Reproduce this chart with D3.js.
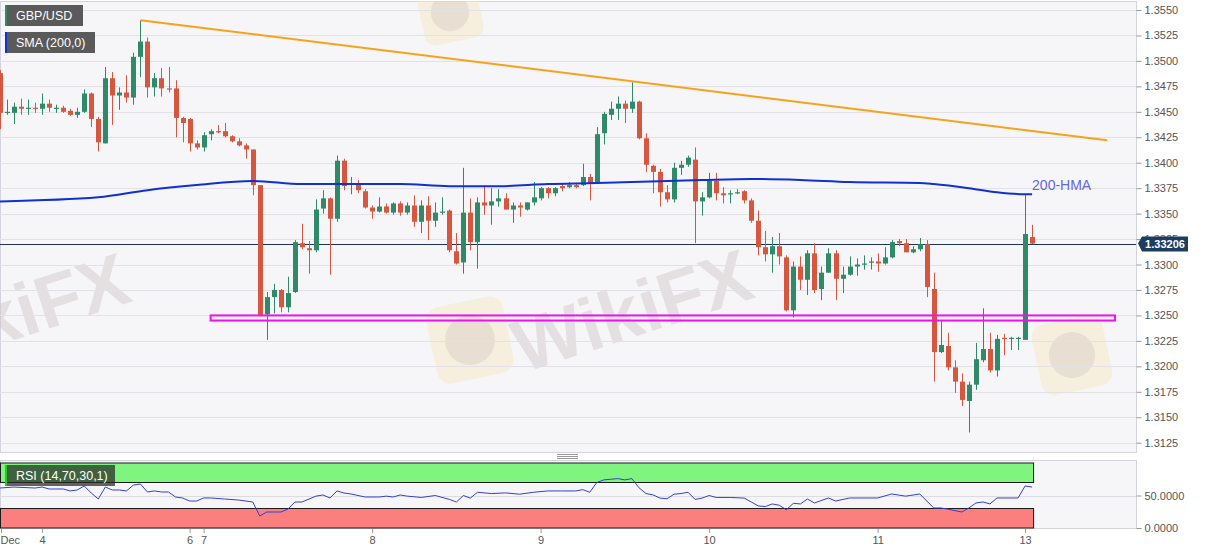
<!DOCTYPE html>
<html><head><meta charset="utf-8">
<script src="https://cdn.jsdelivr.net/npm/d3@7"></script>
<style>body{margin:0;background:#fff;overflow:hidden}svg{display:block;font-family:"Liberation Sans",Arial,sans-serif}</style>
</head><body><svg id="c" width="1207" height="555"></svg>
<script>
const symbolName = "GBP/USD";
const smaName = "SMA (200,0)";
const rsiName = "RSI (14,70,30,1)";
const hmaLabel = "200-HMA";
const open = [1.3488,1.3449,1.3449,1.3455,1.3453,1.3454,1.3453,1.3458,1.3453,1.3454,1.3451,1.3447,1.3450,1.3468,1.3443,1.3419,1.3483,1.3466,1.3469,1.3464,1.3504,1.3519,1.3474,1.3483,1.3473,1.3473,1.3444,1.3443,1.3419,1.3415,1.3428,1.3431,1.3431,1.3426,1.3421,1.3417,1.3413,1.3378,1.3251,1.3268,1.3275,1.3258,1.3273,1.3321,1.3316,1.3314,1.3355,1.3365,1.3345,1.3402,1.3379,1.3379,1.3372,1.3356,1.3352,1.3357,1.3351,1.3360,1.3351,1.3358,1.3342,1.3358,1.3343,1.3351,1.3353,1.3313,1.3302,1.3351,1.3322,1.3361,1.3358,1.3362,1.3365,1.3354,1.3358,1.3354,1.3361,1.3365,1.3375,1.3370,1.3377,1.3376,1.3378,1.3378,1.3386,1.3380,1.3429,1.3447,1.3453,1.3458,1.3453,1.3460,1.3424,1.3397,1.3391,1.3371,1.3364,1.3395,1.3398,1.3403,1.3362,1.3366,1.3382,1.3370,1.3369,1.3370,1.3372,1.3363,1.3343,1.3317,1.3310,1.3318,1.3307,1.3255,1.3298,1.3285,1.3311,1.3276,1.3292,1.3311,1.3286,1.3290,1.3298,1.3300,1.3302,1.3303,1.3301,1.3307,1.3323,1.3321,1.3312,1.3315,1.3320,1.3276,1.3214,1.3220,1.3199,1.3185,1.3166,1.3182,1.3206,1.3217,1.3196,1.3228,1.3227,1.3227,1.3226,1.3327];
const high = [1.3491,1.3462,1.3459,1.3463,1.3462,1.3459,1.3468,1.3462,1.3457,1.3456,1.3453,1.3454,1.3472,1.3469,1.3445,1.3494,1.3489,1.3474,1.3486,1.3508,1.3540,1.3523,1.3488,1.3493,1.3494,1.3481,1.3445,1.3444,1.3422,1.3430,1.3433,1.3437,1.3439,1.3427,1.3424,1.3419,1.3413,1.3378,1.3273,1.3281,1.3276,1.3288,1.3324,1.3340,1.3323,1.3364,1.3373,1.3366,1.3407,1.3404,1.3386,1.3383,1.3374,1.3358,1.3366,1.3360,1.3361,1.3362,1.3361,1.3368,1.3363,1.3367,1.3361,1.3366,1.3354,1.3331,1.3395,1.3365,1.3366,1.3378,1.3375,1.3374,1.3370,1.3361,1.3361,1.3361,1.3381,1.3376,1.3376,1.3376,1.3380,1.3381,1.3380,1.3399,1.3389,1.3435,1.3450,1.3460,1.3465,1.3461,1.3479,1.3461,1.3429,1.3398,1.3394,1.3378,1.3400,1.3402,1.3407,1.3415,1.3371,1.3390,1.3390,1.3376,1.3373,1.3374,1.3373,1.3365,1.3353,1.3333,1.3327,1.3331,1.3309,1.3303,1.3308,1.3314,1.3321,1.3298,1.3316,1.3314,1.3298,1.3308,1.3306,1.3309,1.3307,1.3311,1.3317,1.3324,1.3325,1.3325,1.3318,1.3326,1.3324,1.3292,1.3244,1.3233,1.3206,1.3193,1.3185,1.3223,1.3257,1.3233,1.3231,1.3232,1.3229,1.3229,1.3369,1.3339];
const low = [1.3433,1.3447,1.3438,1.3447,1.3447,1.3449,1.3447,1.3450,1.3449,1.3449,1.3446,1.3444,1.3449,1.3435,1.3411,1.3419,1.3437,1.3452,1.3459,1.3457,1.3484,1.3464,1.3465,1.3465,1.3469,1.3425,1.3420,1.3411,1.3413,1.3411,1.3422,1.3429,1.3425,1.3420,1.3416,1.3404,1.3368,1.3249,1.3226,1.3252,1.3253,1.3253,1.3272,1.3315,1.3291,1.3312,1.3350,1.3290,1.3342,1.3373,1.3369,1.3370,1.3355,1.3345,1.3351,1.3350,1.3349,1.3348,1.3349,1.3337,1.3331,1.3324,1.3337,1.3349,1.3312,1.3300,1.3291,1.3314,1.3296,1.3349,1.3339,1.3357,1.3354,1.3341,1.3347,1.3353,1.3358,1.3363,1.3365,1.3367,1.3372,1.3375,1.3375,1.3377,1.3363,1.3380,1.3418,1.3442,1.3442,1.3439,1.3449,1.3423,1.3391,1.3370,1.3357,1.3361,1.3361,1.3388,1.3396,1.3321,1.3348,1.3365,1.3363,1.3360,1.3360,1.3369,1.3360,1.3341,1.3309,1.3303,1.3292,1.3300,1.3254,1.3248,1.3275,1.3270,1.3272,1.3265,1.3292,1.3265,1.3272,1.3289,1.3289,1.3295,1.3295,1.3293,1.3300,1.3306,1.3318,1.3312,1.3311,1.3313,1.3268,1.3185,1.3213,1.3196,1.3174,1.3161,1.3135,1.3177,1.3204,1.3194,1.3190,1.3211,1.3216,1.3216,1.3226,1.3320];
const close = [1.3449,1.3450,1.3455,1.3453,1.3454,1.3453,1.3458,1.3454,1.3454,1.3450,1.3447,1.3450,1.3468,1.3443,1.3420,1.3483,1.3466,1.3469,1.3464,1.3504,1.3519,1.3474,1.3483,1.3473,1.3472,1.3444,1.3439,1.3419,1.3415,1.3427,1.3431,1.3430,1.3426,1.3421,1.3417,1.3413,1.3378,1.3250,1.3268,1.3275,1.3258,1.3272,1.3322,1.3317,1.3314,1.3354,1.3365,1.3345,1.3402,1.3377,1.3380,1.3373,1.3356,1.3352,1.3357,1.3351,1.3360,1.3351,1.3358,1.3342,1.3358,1.3343,1.3351,1.3352,1.3314,1.3301,1.3351,1.3322,1.3361,1.3358,1.3362,1.3365,1.3354,1.3358,1.3356,1.3361,1.3366,1.3375,1.3370,1.3375,1.3375,1.3378,1.3376,1.3386,1.3380,1.3428,1.3448,1.3453,1.3458,1.3453,1.3460,1.3424,1.3398,1.3391,1.3371,1.3364,1.3395,1.3398,1.3405,1.3362,1.3366,1.3382,1.3370,1.3368,1.3370,1.3371,1.3363,1.3343,1.3317,1.3310,1.3318,1.3308,1.3255,1.3298,1.3285,1.3311,1.3275,1.3292,1.3311,1.3286,1.3290,1.3298,1.3300,1.3301,1.3303,1.3301,1.3307,1.3322,1.3321,1.3312,1.3315,1.3320,1.3278,1.3214,1.3221,1.3199,1.3185,1.3167,1.3182,1.3207,1.3217,1.3196,1.3227,1.3227,1.3228,1.3228,1.3330,1.33206];
const smaIdx = [0,14,21,28,36,43,50,57,64,71,78,85,90,100,107,114,121,131,133,138,142,146,147];
const smaVal = [1.3362,1.3366,1.3373,1.3378,1.3382,1.3379,1.3379,1.3379,1.3377,1.3377,1.3379,1.3380,1.3381,1.3383,1.3384,1.3383,1.3381,1.3380,1.3379,1.3375,1.3371,1.3369,1.3369];
const rsiIdx = [0,2,5,6,7,9,10,11,12,13,14,15,16,17,18,19,20,21,22,23,24,25,26,27,28,29,30,32,34,36,37,38,39,40,41,42,43,45,46,47,48,49,50,52,54,55,56,57,58,60,62,64,65,66,67,68,70,72,74,76,78,80,82,83,84,85,86,87,88,89,90,91,92,93,94,95,96,97,98,99,100,101,102,104,106,107,108,109,110,111,112,113,114,115,116,118,119,121,125,127,129,131,133,134,135,137,138,139,140,141,142,145,146,147];
const rsiVal = [61.5,63,61.5,63,60,60,57,58.5,64.6,53.8,44.6,63,58.5,58.5,57,66,67.7,55.4,57,55.4,55.4,47.7,46.2,41.5,41.5,46.2,46.2,44.6,43,40,18.5,24.6,24.6,24.6,29,40,40,49,50.8,46.2,57,53.8,52.3,47.7,47.7,49,47.7,50.8,49,47,50,44,40,50,46,55,53,54,52,55,57,57,57,59,55,70,74,75,76,74,76,62,53,51,46,45,52,53,55,44,46,50,47,47,46,40,34,33,37,35,28,38,37,44.6,38.5,46.2,41.5,46.2,46.2,52.3,49,52.3,30.8,30.8,29,24.6,30.8,38.5,40,37,46.2,46.2,64.6,63];
const priceTicks = [1.3125,1.3150,1.3175,1.3200,1.3225,1.3250,1.3275,1.3300,1.3325,1.3350,1.3375,1.3400,1.3425,1.3450,1.3475,1.3500,1.3525,1.3550];
const rsiTicks = [0,50];
const rsiBands = [[70,100],[0,30]];
const dayLabels = ["Dec","4","6","7","8","9","10","11","13"];
const dayIdx = [0.15,6,27,29,53,77,101,125,146];
const trendIdx = [20,157.7];
const trendVal = [1.3540,1.3422];
const zoneIdx = [30,158.8];
const zoneVal = [1.3250,1.3245];
const lastPrice = 1.33206;

(function(){
const svg = d3.select("#c");
const W = 1136, pTop = 1, pBot = 452;
const x = d3.scaleLinear().domain([0,161.8]).range([0,W]);
const y = d3.scaleLinear().domain([1.3125,1.3550]).range([442.7,10]);
const r = d3.scaleLinear().domain([0,100]).range([528,463]);
const FONT = "Liberation Sans, Arial, sans-serif";

svg.append("defs").append("clipPath").attr("id","mc").append("rect").attr("x",0).attr("y",pTop).attr("width",W).attr("height",pBot-pTop);
svg.append("rect").attr("x",0.5).attr("y",pTop+0.5).attr("width",W).attr("height",pBot-pTop).attr("fill","#f6f6f8").attr("stroke","#d4d4de");
svg.append("rect").attr("x",0.5).attr("y",460.5).attr("width",W).attr("height",68).attr("fill","#f6f6f8").attr("stroke","#d4d4de");

// watermarks
const wm = svg.append("g").attr("clip-path","url(#mc)");
function logo(cx,cy,s){
  wm.append("rect").attr("x",cx-s/2).attr("y",cy-s/2).attr("width",s).attr("height",s).attr("rx",s*0.18).attr("fill","#f5e9c8").attr("opacity",0.55).attr("transform",`rotate(-12,${cx},${cy})`);
  wm.append("circle").attr("cx",cx).attr("cy",cy).attr("r",s*0.32).attr("fill","#d8ccc4").attr("opacity",0.45);
}
logo(470,340,78); logo(1072,355,72); logo(450,12,60);
[[60,325,"kiFX",-18],[640,335,"WikiFX",-18]].forEach(([px,py,t,a])=>{
  wm.append("text").attr("x",px).attr("y",py).attr("text-anchor","middle").attr("font-size",74).attr("font-weight","bold")
    .attr("fill","#cfc6c6").attr("opacity",0.45).attr("transform",`rotate(${a},${px},${py})`).text(t);
});

// grid
svg.append("g").selectAll("line").data(priceTicks).join("line")
  .attr("x1",0).attr("x2",W).attr("y1",d=>Math.round(y(d))+0.5).attr("y2",d=>Math.round(y(d))+0.5)
  .attr("stroke","#e2e2e6");
svg.append("line").attr("x1",0).attr("x2",W).attr("y1",Math.round(r(50))+0.5).attr("y2",Math.round(r(50))+0.5).attr("stroke","#dcdce2");

const g = svg.append("g").attr("clip-path","url(#mc)");
g.append("line").attr("x1",0).attr("x2",W).attr("y1",Math.round(y(lastPrice))+0.5).attr("y2",Math.round(y(lastPrice))+0.5).attr("stroke","#1e3656").attr("stroke-width",1);

// candles
const idx = d3.range(open.length);
const up = i => close[i] >= open[i];
const green = "#2e8a69", red = "#d5573f";
g.append("g").selectAll("line").data(idx).join("line")
  .attr("x1",i=>Math.round(x(i))+0.5).attr("x2",i=>Math.round(x(i))+0.5)
  .attr("y1",i=>y(high[i])).attr("y2",i=>y(low[i]))
  .attr("stroke",i=>up(i)?green:red).attr("stroke-width",1);
g.append("g").selectAll("rect").data(idx).join("rect")
  .attr("x",i=>Math.round(x(i))-2).attr("width",5)
  .attr("y",i=>y(Math.max(open[i],close[i])))
  .attr("height",i=>Math.max(1.2,Math.abs(y(open[i])-y(close[i]))))
  .attr("fill",i=>up(i)?green:red);

// SMA
g.append("path").datum(d3.zip(smaIdx,smaVal))
  .attr("d",d3.line().x(d=>x(d[0])).y(d=>y(d[1])).curve(d3.curveMonotoneX))
  .attr("fill","none").attr("stroke","#1030d0").attr("stroke-width",2);

// trend line
g.append("path").datum(d3.zip(trendIdx,trendVal))
  .attr("d",d3.line().x(d=>x(d[0])).y(d=>y(d[1])))
  .attr("stroke","#f7a21b").attr("stroke-width",2).attr("fill","none");

// support zone
g.append("rect").attr("x",x(zoneIdx[0])).attr("width",x(zoneIdx[1])-x(zoneIdx[0]))
  .attr("y",y(zoneVal[0])).attr("height",y(zoneVal[1])-y(zoneVal[0]))
  .attr("fill","none").attr("stroke","#ee11ee").attr("stroke-width",2);

svg.append("text").attr("x",x(smaIdx[smaIdx.length-1])).attr("y",y(smaVal[smaVal.length-1])-4)
  .attr("font-size",14).attr("fill","#6666e0").text(hmaLabel);

// price axis
const ya = svg.append("g").attr("transform",`translate(${W+0.5},0)`)
  .call(d3.axisRight(y).tickValues(priceTicks).tickSize(5).tickPadding(3).tickFormat(d3.format(".4f")));
ya.select(".domain").remove();
ya.selectAll("line").attr("stroke","#999");
ya.selectAll("text").attr("fill","#555").attr("font-size",11).attr("font-family",FONT);

const ly = y(lastPrice);
svg.append("path").attr("d",`M${W+2},${ly} L${W+6},${ly-7} L${W+52},${ly-7} L${W+52},${ly+8} L${W+6},${ly+8} Z`).attr("fill","#1d3d5f");
svg.append("text").attr("x",W+29).attr("y",ly+4.5).attr("text-anchor","middle").attr("font-size",11).attr("font-weight","bold").attr("fill","#fff").attr("font-family",FONT).text(d3.format(".5f")(lastPrice));

// RSI panel
const rg = svg.append("g");
const bandX1 = x(open.length-1)+1;
rg.selectAll("rect").data(rsiBands).join("rect")
  .attr("x",0.5).attr("width",bandX1)
  .attr("y",d=>r(d[1])).attr("height",d=>r(d[0])-r(d[1]))
  .attr("fill",(d,i)=>i===0?"#7ff57f":"#fb7f7f").attr("stroke","#1a1a1a").attr("stroke-width",1);
rg.append("path").datum(d3.zip(rsiIdx,rsiVal))
  .attr("d",d3.line().x(d=>x(d[0])).y(d=>r(d[1])))
  .attr("fill","none").attr("stroke","#3440d0").attr("stroke-width",1);
const ra = svg.append("g").attr("transform",`translate(${W+0.5},0)`)
  .call(d3.axisRight(r).tickValues(rsiTicks).tickSize(5).tickPadding(3).tickFormat(d3.format(".4f")));
ra.select(".domain").remove();
ra.selectAll("line").attr("stroke","#999");
ra.selectAll("text").attr("fill","#555").attr("font-size",11).attr("font-family",FONT);

// x axis
const xa = svg.append("g").attr("transform","translate(0,529)")
  .call(d3.axisBottom(x).tickValues(dayIdx).tickSize(4).tickPadding(3).tickFormat((d,i)=>dayLabels[i]));
xa.select(".domain").remove();
xa.selectAll("line").attr("stroke","#999");
xa.selectAll("text").attr("fill","#555").attr("font-size",11).attr("font-family",FONT);
xa.selectAll("text").filter((d,i)=>i===0).attr("text-anchor","start").attr("dx",-1);

[454,456,458].forEach(yy=>svg.append("line").attr("x1",557).attr("x2",578).attr("y1",yy+0.5).attr("y2",yy+0.5).attr("stroke","#999"));

function legend(px,py,w,h,stripe,txt,bg){
  svg.append("rect").attr("x",px).attr("y",py).attr("width",w).attr("height",h).attr("fill",bg);
  svg.append("rect").attr("x",px).attr("y",py).attr("width",2).attr("height",h).attr("fill",stripe);
  svg.append("text").attr("x",px+11).attr("y",py+h/2+4.5).attr("font-size",12.5).attr("fill","#fff").attr("font-family",FONT).text(txt);
}
legend(5,5,78,21,"#2e8a69",symbolName,"#5a5a5a");
legend(5,32,90,21,"#1030d0",smaName,"#5a5a5a");
legend(5,465,110,21,"#22cc22",rsiName,"rgba(40,40,40,0.72)");
})();
</script></body></html>
